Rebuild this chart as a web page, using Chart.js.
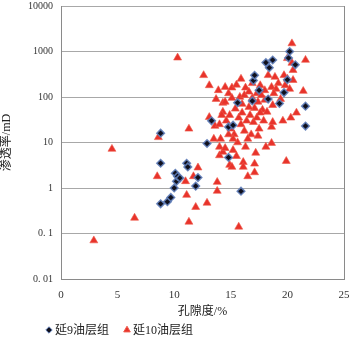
<!DOCTYPE html>
<html>
<head>
<meta charset="utf-8">
<script src="https://cdn.jsdelivr.net/npm/chart.js@4.4.1/dist/chart.umd.min.js"></script>
<style>
html, body { margin: 0; padding: 0; background: #fff; }
#wrap { width: 354px; height: 338px; }
</style>
</head>
<body>
<div id="wrap"><canvas id="c" width="354" height="338"></canvas></div>
<script>
// 延9油层组
const yan9X = [8.8, 8.8, 8.8, 9.4, 9.7, 10.0, 10.2, 10.1, 10.3, 10.5, 11.1, 11.2, 12.1, 11.9, 12.9, 13.3, 14.8, 15.9, 14.8, 15.2, 15.6, 16.9, 17.0, 17.1, 17.5, 18.1, 18.4, 18.7, 18.3, 19.3, 19.7, 20.0, 20.2, 20.1, 20.7, 21.6, 21.6];
const yan9Y = [16, 3.5, 0.45, 0.5, 0.62, 1.0, 1.4, 2.1, 1.8, 1.65, 3.5, 2.9, 1.7, 1.1, 9.5, 30, 4.7, 0.85, 22, 24, 75, 82, 230, 300, 140, 570, 440, 650, 90, 72, 125, 240, 1000, 720, 510, 63, 23];

// 延10油层组
const yan10X = [2.9, 4.5, 6.5, 8.5, 8.6, 10.3, 11.3, 11.0, 11.1, 11.3, 11.7, 11.9, 12.1, 12.6, 12.9, 13.1, 13.1, 13.6, 13.7, 13.8,
  13.8, 14.0, 14.0, 14.0, 14.3, 14.3, 14.3, 14.5, 14.5, 14.5, 14.8, 14.9, 15.1, 15.1, 15.1, 15.2, 15.5, 15.5, 15.6, 15.7,
  15.8, 16.1, 16.1, 16.3, 16.3, 16.5, 16.9, 17.1, 17.1, 17.1, 17.2, 17.3, 17.4, 17.8, 18.0, 18.0, 18.1, 18.2, 18.3, 18.6,
  18.6, 18.6, 18.7, 18.7, 18.9, 19.2, 19.6, 19.7, 19.9, 20.0, 20.0, 20.3, 20.4, 20.4, 20.5, 20.5, 20.8, 21.4, 21.6,
  14.6, 14.9, 15.0, 15.3, 15.4, 15.7, 15.9, 16.0, 16.2, 16.4, 16.6, 16.7, 16.8, 17.0, 17.3, 17.5, 17.6, 17.9, 16.2, 16.6,
  17.6, 16.0, 15.2, 16.5, 17.4, 14.2, 13.9, 19.0, 19.4, 18.8, 17.7, 19.8, 20.2, 16.9, 15.9, 14.8, 13.5, 14.1];
const yan10Y = [0.07, 7.2, 0.22, 1.8, 13, 730, 20, 1.4, 0.7, 0.18, 1.8, 0.38, 2.8, 300, 0.47, 180, 36, 23, 90, 1.35,
  0.86, 25, 8, 5.2, 6.2, 47, 74, 165, 78, 7.5, 120, 3.2, 2.9, 160, 95, 6.8, 185, 5, 10, 0.14,
  100, 3.7, 2.9, 160, 8, 1.8, 95, 57, 3.4, 2.2, 5.9, 120, 78, 52, 140, 86, 8, 47, 300, 165,
  22, 9.7, 28, 66, 275, 200, 30, 300, 3.9, 250, 710, 35, 1500, 560, 390, 235, 45, 135, 650,
  30, 40, 20, 15, 55, 35, 25, 45, 18, 30, 60, 40, 15, 28, 35, 20, 45, 30, 110, 130,
  180, 70, 12, 12, 14, 40, 140, 150, 90, 120, 110, 180, 150, 200, 250, 15, 12, 12];

const seriesNames = ['延9油层组', '延10油层组'];
const yTickValues = [0.01, 0.1, 1, 10, 100, 1000, 10000];
const yTickLabels = ['0. 01', '0. 1', '1', '10', '100', '1000', '10000'];
const xTickValues = [0, 5, 10, 15, 20, 25];

const serif = "'Liberation Serif', 'Noto Sans CJK SC', serif";

function toPoints(xs, ys) {
    return xs.map((x, i) => ({ x: x, y: ys[i] }));
}

// 去掉刻度标签带来的额外留白
function noOverhang(scale) {
    scale.paddingLeft = 0;
    scale.paddingRight = 0;
    scale.paddingTop = 0;
    scale.paddingBottom = 0;
}

// 右边框 + 图例
const extras = {
    id: 'extras',
    afterDraw(chart) {
        const ctx = chart.ctx;
        const a = chart.chartArea;
        ctx.save();
        ctx.strokeStyle = '#8a8a8a';
        ctx.lineWidth = 1;
        ctx.beginPath();
        ctx.moveTo(a.right + 0.5, a.top);
        ctx.lineTo(a.right + 0.5, a.bottom);
        ctx.stroke();

        const legendX = [49, 127];
        const legendY = 330;
        ctx.font = '12px ' + serif;
        ctx.textBaseline = 'middle';
        ctx.textAlign = 'left';
        chart.data.datasets.forEach((ds, i) => {
            ctx.fillStyle = ds.backgroundColor;
            ctx.strokeStyle = ds.borderColor;
            ctx.lineWidth = 1;
            Chart.helpers.drawPoint(ctx, {
                pointStyle: ds.pointStyle,
                radius: i === 0 ? 3.2 : 3.8,
                rotation: 0,
                borderWidth: 1
            }, legendX[i], legendY);
            ctx.fillStyle = '#222';
            ctx.fillText(ds.label, legendX[i] + 6, legendY + 1);
        });
        ctx.restore();
    }
};

const ctx = document.getElementById('c').getContext('2d');
new Chart(ctx, {
    type: 'scatter',
    data: {
        datasets: [
            {
                label: seriesNames[0],
                data: toPoints(yan9X, yan9Y),
                pointStyle: 'rectRot',
                pointRadius: 3.8,
                backgroundColor: '#10101c',
                borderColor: 'rgba(95, 125, 185, 0.9)',
                borderWidth: 1.5
            },
            {
                label: seriesNames[1],
                data: toPoints(yan10X, yan10Y),
                pointStyle: 'triangle',
                pointRadius: 4.6,
                backgroundColor: '#e8332b',
                borderColor: '#ee5a4c',
                borderWidth: 0.6
            }
        ]
    },
    options: {
        responsive: false,
        devicePixelRatio: 1,
        animation: false,
        layout: { padding: { top: 6, right: 10, left: 0, bottom: 0 } },
        plugins: {
            legend: { display: false },
            tooltip: { enabled: false }
        },
        scales: {
            x: {
                type: 'linear',
                min: 0,
                max: 25,
                afterBuildTicks: function(scale) {
                    scale.ticks = xTickValues.map(v => ({ value: v }));
                },
                afterFit: function(scale) {
                    scale.height = 59;
                    noOverhang(scale);
                },
                grid: { display: false, drawTicks: false },
                border: { display: true, color: '#8a8a8a', width: 1 },
                ticks: {
                    padding: 10,
                    color: '#333',
                    font: { family: serif, size: 11 },
                    maxRotation: 0
                },
                title: {
                    display: true,
                    text: '孔隙度/%',
                    color: '#222',
                    font: { family: serif, size: 12 },
                    padding: { top: 19, bottom: 19 }
                }
            },
            y: {
                type: 'logarithmic',
                min: 0.01,
                max: 10000,
                afterBuildTicks: function(scale) {
                    scale.ticks = yTickValues.map(v => ({ value: v }));
                },
                afterFit: function(scale) {
                    scale.width = 61;
                    noOverhang(scale);
                },
                grid: { color: '#a8a8a8', lineWidth: 1, drawTicks: false },
                border: { display: true, color: '#8a8a8a', width: 1 },
                ticks: {
                    padding: 8,
                    color: '#333',
                    font: { family: serif, size: 10 },
                    callback: function(value) {
                        const i = yTickValues.indexOf(value);
                        return i >= 0 ? yTickLabels[i] : '';
                    }
                },
                title: {
                    display: true,
                    text: '渗透率/mD',
                    color: '#222',
                    font: { family: serif, size: 12 },
                    padding: { top: 0, bottom: 0 }
                }
            }
        }
    },
    plugins: [extras]
});
</script>
</body>
</html>
